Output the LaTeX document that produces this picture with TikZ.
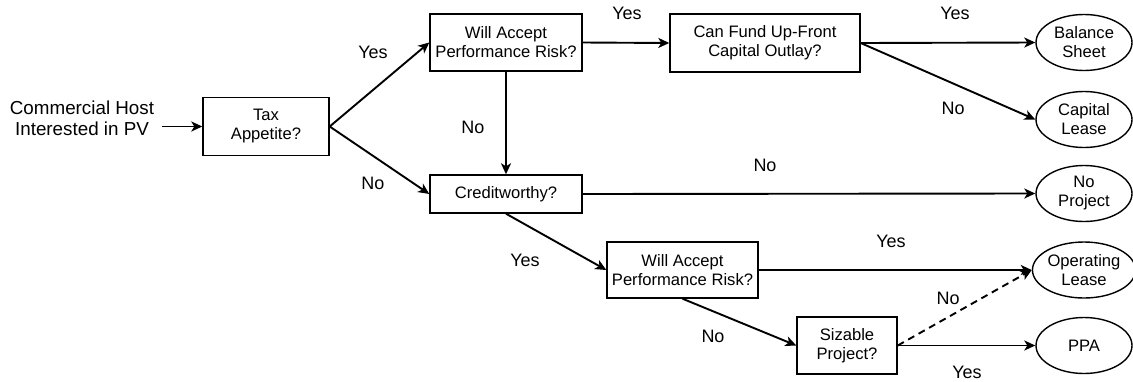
\documentclass[tikz,border=0pt]{standalone}
\usepackage{fontspec}
\setmainfont{Liberation Sans}
\usetikzlibrary{shapes.geometric, arrows.meta}
\tikzset{
    x=1pt, y=-1pt, % one unit is one pixel of the layout
    >={Stealth[length=11pt, width=10pt, inset=3pt]}, % filled arrow heads
    link/.style={->, line width=1.9pt}, % the connectors between the boxes
    question/.style={draw, line width=1.4pt, rectangle, inner sep=0pt, align=center, font=\fontsize{16.6}{19}\selectfont}, % a decision box
    outcome/.style={draw, line width=1.4pt, ellipse, inner sep=0pt, minimum width=96pt, minimum height=56pt, align=center, font=\fontsize{16.6}{19}\selectfont}, % an end result
    answer/.style={font=\fontsize{18}{20}\selectfont}, % yes / no on the connectors
}
\begin{document}
\begin{tikzpicture}
    \useasboundingbox (0,0) rectangle (1133,381);
    % start and the questions
    \node[align=center, inner sep=8pt, font=\fontsize{18.8}{21}\selectfont] (host) at (82,118.5) {Commercial Host\\Interested in PV};
    \node[question, minimum width=126pt, minimum height=58pt] (tax) at (266,126.5) {Tax\\Appetite?};
    \node[question, minimum width=152pt, minimum height=57pt] (risktop) at (506,42.5) {Will Accept\\Performance Risk?};
    \node[question, minimum width=190pt, minimum height=58pt] (fund) at (765,43) {Can Fund Up-Front\\Capital Outlay?};
    \node[question, minimum width=152pt, minimum height=38pt] (credit) at (506,194) {Creditworthy?};
    \node[question, minimum width=151pt, minimum height=56pt] (riskbot) at (682.5,270) {Will Accept\\Performance Risk?};
    \node[question, minimum width=100pt, minimum height=57pt] (sizable) at (847,345.5) {Sizable\\Project?};
    % the outcomes
    \node[outcome] (balance) at (1084,42.5) {Balance\\Sheet};
    \node[outcome] (caplease) at (1084,119.5) {Capital\\Lease};
    \node[outcome] (noproj) at (1084,193.5) {No\\Project};
    \node[outcome] (oplease) at (1084,270) {Operating\\Lease};
    \node[outcome] (ppa) at (1084,345.5) {PPA};
    % connectors
    \draw[link] (host.east |- tax.west) -- (tax.west);
    \draw[link] (tax.east) -- (risktop.west);
    \draw[link] (tax.east) -- (credit.west);
    \draw[link] (risktop.east) -- (fund.west);
    \draw[link] (risktop.south) -- (credit.north);
    \draw[link] (fund.east) -- (balance.west);
    \draw[link] (fund.east) -- (caplease.west);
    \draw[link] (credit.east) -- (noproj.west);
    \draw[link] (credit.south) -- (riskbot.west);
    \draw[link] (riskbot.east) -- (oplease.west);
    \draw[link] (riskbot.south) -- (sizable.west);
    \draw[link] (sizable.east) -- (ppa.west);
    \draw[link, dashed, dash pattern=on 7pt off 5pt] (sizable.east) -- (oplease.west);
    % answers
    \node[answer] (yes1) at (373,52) {Yes};
    \node[answer] (no1) at (373,183) {No};
    \node[answer] (yes2) at (627,13) {Yes};
    \node[answer] (no2) at (473,127) {No};
    \node[answer] (yes3) at (955,13) {Yes};
    \node[answer] (no3) at (953,108) {No};
    \node[answer] (no4) at (765,165) {No};
    \node[answer] (yes4) at (525,260) {Yes};
    \node[answer] (yes5) at (891,241) {Yes};
    \node[answer] (no5) at (713,336) {No};
    \node[answer] (no6) at (948,298) {No};
    \node[answer] (yes6) at (967,372) {Yes};
\end{tikzpicture}
\end{document}
